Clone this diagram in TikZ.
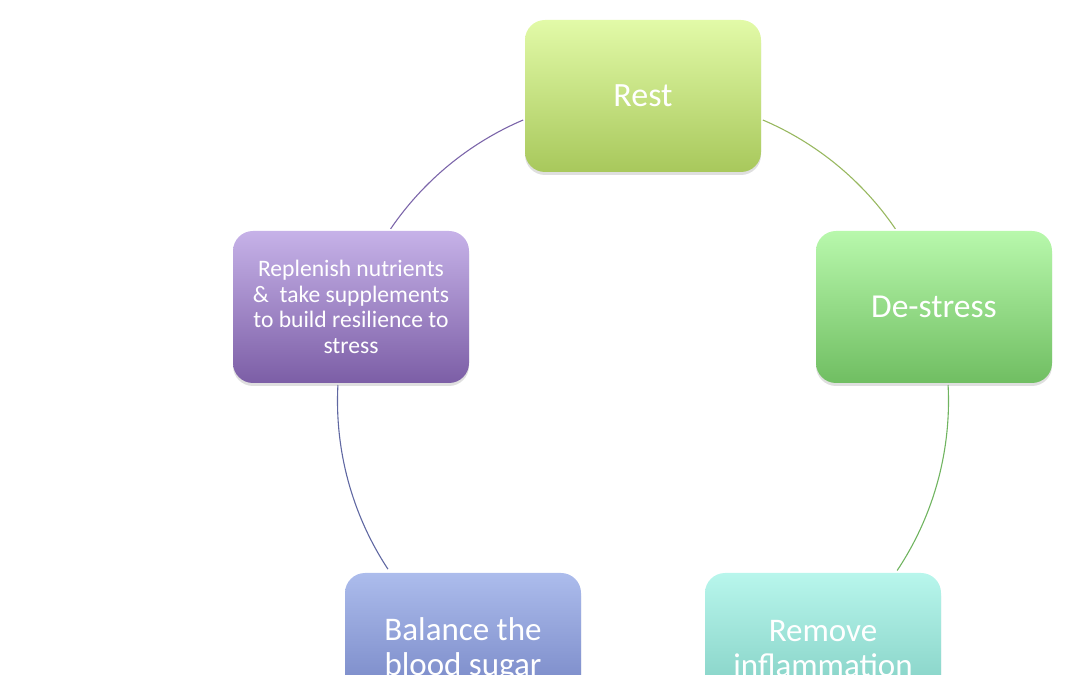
\documentclass[tikz,border=0pt]{standalone}
\usepackage{fontspec}
\setmainfont{Carlito}
\usetikzlibrary{shadows,calc}
\definecolor{restT}{RGB}{226,250,168}
\definecolor{restB}{RGB}{168,200,92}
\definecolor{desT}{RGB}{184,248,172}
\definecolor{desB}{RGB}{112,190,98}
\definecolor{remT}{RGB}{184,246,236}
\definecolor{remB}{RGB}{120,200,188}
\definecolor{balT}{RGB}{172,188,236}
\definecolor{balB}{RGB}{108,124,190}
\definecolor{repT}{RGB}{198,178,232}
\definecolor{repB}{RGB}{124,94,166}
\definecolor{arcA}{RGB}{152,184,96}
\definecolor{arcB}{RGB}{112,180,96}
\definecolor{arcC}{RGB}{96,104,162}
\definecolor{arcD}{RGB}{124,102,170}
\tikzset{
  stepbox/.style={rounded corners=20pt, minimum width=236pt, minimum height=152pt,
    inner sep=0pt, text=white, align=center,
    drop shadow={opacity=0.25, shadow xshift=0pt, shadow yshift=-3pt}},
  arcline/.style={line width=1.1pt},
}
\begin{document}
\begin{tikzpicture}[x=1pt,y=1pt]
\useasboundingbox (0,0) rectangle (1080,675);
\clip (0,0) rectangle (1080,675);
\coordinate (c) at (643,274);
\def\R{305.5}
% arcs
\coordinate (a1) at ($(c)+(66.9:\R)$);
\coordinate (a2) at ($(c)+(3:\R)$);
\coordinate (a3) at ($(c)+(213.4:\R)$);
\coordinate (a4) at ($(c)+(145.7:\R)$);
\draw[arcline, arcA] (a1) arc[start angle=66.9, end angle=34.3, radius=\R];
\draw[arcline, arcB] (a2) arc[start angle=3, end angle=-33.7, radius=\R];
\draw[arcline, arcC] (a3) arc[start angle=213.4, end angle=177, radius=\R];
\draw[arcline, arcD] (a4) arc[start angle=145.7, end angle=113.1, radius=\R];
% boxes
\node[stepbox, top color=restT, bottom color=restB, font=\fontsize{34}{40}\selectfont] (rest) at (643,579) {Rest};
\node[stepbox, top color=desT, bottom color=desB, font=\fontsize{33.5}{40}\selectfont] (destress) at (934,368) {De-stress};
\node[stepbox, top color=remT, bottom color=remB, font=\fontsize{33}{35}\selectfont] (remove) at (823,26) {Remove\\inflammation};
\node[stepbox, top color=balT, bottom color=balB, font=\fontsize{33}{35}\selectfont] (balance) at (463,26) {Balance the\\blood sugar};
\node[stepbox, top color=repT, bottom color=repB, font=\fontsize{23.6}{25.5}\selectfont] (replenish) at (351,368) {Replenish nutrients\\\& \ take supplements\\to build resilience to\\stress};
\end{tikzpicture}
\end{document}
